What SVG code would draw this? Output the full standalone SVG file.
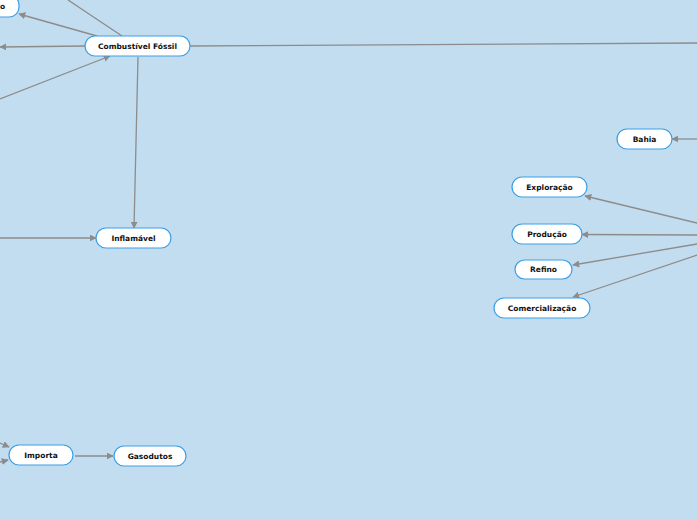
<svg xmlns="http://www.w3.org/2000/svg" width="697" height="520" viewBox="0 0 697 520">
<defs>
<marker id="ah" viewBox="0 0 10 10" refX="9" refY="5" markerWidth="7" markerHeight="7" markerUnits="userSpaceOnUse" orient="auto">
<path d="M0,0 L10,5 L0,10 z" fill="#8c8c8c"/>
</marker>
<style>
.n rect{fill:#ffffff;stroke:#3b9fe3;stroke-width:1.2}
.n text{font-family:"DejaVu Sans",Verdana,sans-serif;font-weight:bold;font-size:7.5px;fill:#111;text-anchor:middle;dominant-baseline:central}
.c line{stroke:#8c8c8c;stroke-width:1.3}
.c line.a{marker-end:url(#ah)}
</style>
</defs>
<rect width="697" height="520" fill="#c3ddf0"/>
<g class="c">
<line x1="122" y1="36" x2="68" y2="0"/>
<line class="a" x1="97" y1="36" x2="19" y2="14"/>
<line class="a" x1="85" y1="46" x2="0" y2="47"/>
<line class="a" x1="0" y1="99" x2="110" y2="56"/>
<line x1="190" y1="46" x2="697" y2="43"/>
<line class="a" x1="138" y1="57" x2="134" y2="228"/>
<line class="a" x1="0" y1="238" x2="96" y2="238"/>
<line class="a" x1="697" y1="139" x2="672" y2="139"/>
<line class="a" x1="697" y1="223" x2="585" y2="196"/>
<line class="a" x1="697" y1="235" x2="582" y2="234.5"/>
<line class="a" x1="697" y1="244" x2="573" y2="265"/>
<line class="a" x1="697" y1="255" x2="573" y2="297"/>
<line class="a" x1="0" y1="443" x2="9" y2="447"/>
<line class="a" x1="0" y1="462" x2="8" y2="460"/>
<line class="a" x1="75" y1="456" x2="113" y2="456"/>
</g>
<g id="n0" class="n"><rect x="-60" y="-5" width="79" height="22" rx="10"/><text x="0" y="6" style="text-anchor:start">o</text></g>
<g id="n1" class="n"><rect x="85" y="36" width="105" height="20" rx="10"/><text x="137.5" y="46">Combustível Fóssil</text></g>
<g id="n2" class="n"><rect x="96" y="228" width="75" height="20" rx="10"/><text x="133.5" y="238">Inflamável</text></g>
<g id="n3" class="n"><rect x="617" y="129" width="55" height="20" rx="10"/><text x="644.5" y="139">Bahia</text></g>
<g id="n4" class="n"><rect x="512" y="177" width="75" height="20" rx="10"/><text x="549.5" y="187">Exploração</text></g>
<g id="n5" class="n"><rect x="512" y="224" width="70" height="20" rx="10"/><text x="547" y="234">Produção</text></g>
<g id="n6" class="n"><rect x="515" y="260" width="57" height="19" rx="9.5"/><text x="543.5" y="269.5">Refino</text></g>
<g id="n7" class="n"><rect x="494" y="298" width="96" height="20" rx="10"/><text x="542" y="308">Comercialização</text></g>
<g id="n8" class="n"><rect x="9" y="445" width="64" height="20" rx="10"/><text x="41" y="455">Importa</text></g>
<g id="n9" class="n"><rect x="114" y="446" width="72" height="20" rx="10"/><text x="150" y="456">Gasodutos</text></g>
</svg>
